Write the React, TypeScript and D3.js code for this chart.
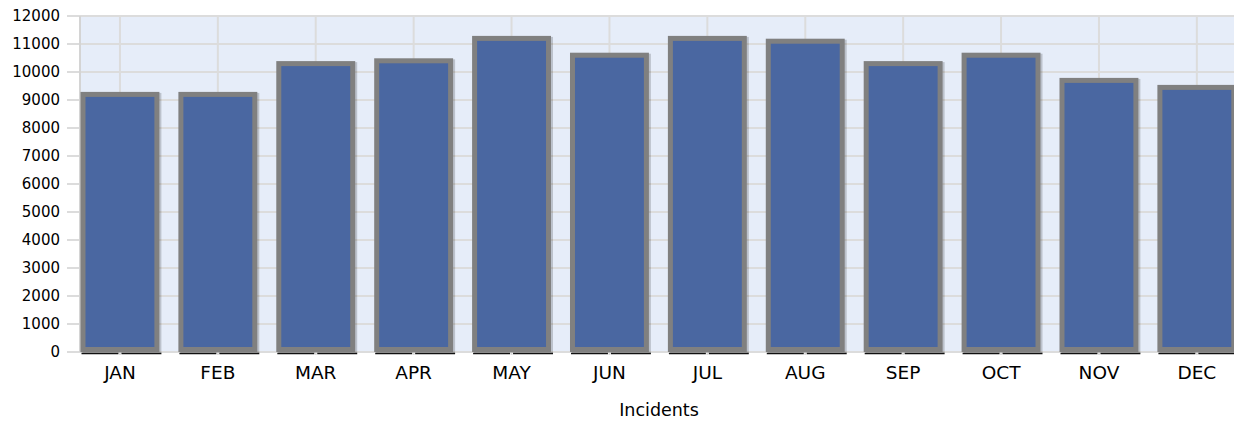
import * as d3 from "d3";

// chart data
const months = ["JAN", "FEB", "MAR", "APR", "MAY", "JUN", "JUL", "AUG", "SEP", "OCT", "NOV", "DEC"];
const incidents = [9200, 9200, 10300, 10400, 11200, 10600, 11200, 11100, 10300, 10600, 9700, 9450];
const yTickValues = [0, 1000, 2000, 3000, 4000, 5000, 6000, 7000, 8000, 9000, 10000, 11000, 12000];
const xTitle = "Incidents";

const width = 1234;
const height = 421;
const plotLeft = 80;
const plotTop = 16;
const plotBottom = 352;
const font = "'DejaVu Sans', Verdana, sans-serif";

export default function App() {
    // y: 0..12000 mapped onto the plot height
    const yScale = d3.scaleLinear().domain([0, 12000]).range([plotBottom, plotTop]);

    // x: band scale, the last bar runs off the right edge like the original
    const xScale = d3.scaleBand<string>()
        .domain(months)
        .range([71, 71 + 97.9 * months.length])
        .paddingInner(0.245)
        .paddingOuter(0.1225);

    const bw = xScale.bandwidth();
    const stroke = 5;

    return (
        <svg width={width} height={height} style={{ position: "absolute", left: 0, top: 0, background: "#fff" }}>
            {/* plot background */}
            <rect x={plotLeft} y={plotTop} width={width - plotLeft} height={plotBottom - plotTop} fill="#e6edf9" />

            {/* horizontal grid + ticks */}
            {yTickValues.map(t => (
                <g key={"y" + t}>
                    <line x1={67} x2={width} y1={yScale(t)} y2={yScale(t)} stroke="#dcdcdc" strokeWidth={2} />
                    <text
                        x={60}
                        y={yScale(t)}
                        textAnchor="end"
                        dominantBaseline="central"
                        fontFamily={font}
                        fontSize={15}
                        fill="#000"
                    >
                        {t}
                    </text>
                </g>
            ))}

            {/* vertical grid at category centres */}
            {months.map(m => {
                const cx = (xScale(m) as number) + bw / 2;
                return (
                    <line key={"v" + m} x1={cx} x2={cx} y1={plotTop} y2={plotBottom + 3} stroke="#dcdcdc" strokeWidth={2} />
                );
            })}

            {/* y axis line */}
            <line x1={plotLeft} x2={plotLeft} y1={plotTop} y2={plotBottom} stroke="#d4d4d4" strokeWidth={2} />

            {/* bars */}
            {months.map((m, i) => {
                const x0 = xScale(m) as number;
                const yTop = yScale(incidents[i]);
                const yBot = yScale(0) - stroke / 2;
                return (
                    <g key={"b" + m}>
                        <rect
                            x={x0 + 2}
                            y={yTop + 1}
                            width={bw}
                            height={yBot - yTop}
                            fill="none"
                            stroke="#000"
                            strokeOpacity={0.18}
                            strokeWidth={stroke}
                        />
                        <rect
                            x={x0}
                            y={yTop}
                            width={bw}
                            height={yBot - yTop}
                            fill="#4a67a1"
                            stroke="#808080"
                            strokeWidth={stroke}
                        />
                    </g>
                );
            })}

            {/* black underline below each bar, split at the centre tick */}
            {months.map(m => {
                const x0 = (xScale(m) as number) - stroke / 2 + 1;
                const x1 = (xScale(m) as number) + bw + stroke / 2 + 2;
                const cx = (xScale(m) as number) + bw / 2;
                return (
                    <g key={"u" + m}>
                        <line x1={x0} x2={cx - 1.5} y1={353.5} y2={353.5} stroke="#111" strokeWidth={1.6} />
                        <line x1={cx + 1.5} x2={x1} y1={353.5} y2={353.5} stroke="#111" strokeWidth={1.6} />
                    </g>
                );
            })}

            {/* x labels */}
            {months.map(m => (
                <text
                    key={"l" + m}
                    x={(xScale(m) as number) + bw / 2}
                    y={379}
                    textAnchor="middle"
                    fontFamily={font}
                    fontSize={18.5}
                    fill="#000"
                >
                    {m}
                </text>
            ))}

            {/* axis title */}
            <text x={659} y={416} textAnchor="middle" fontFamily={font} fontSize={17.5} fill="#000">
                {xTitle}
            </text>
        </svg>
    );
}
